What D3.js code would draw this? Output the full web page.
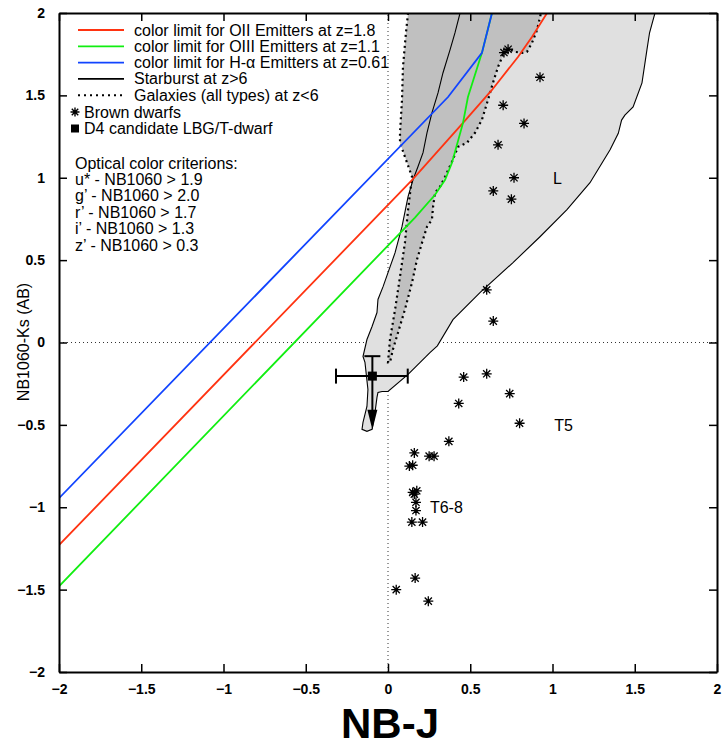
<!DOCTYPE html>
<html>
<head>
<meta charset="utf-8">
<script src="https://cdn.jsdelivr.net/npm/d3@7"></script>
<style>
  body { margin: 0; background: #fff; }
  svg { font-family: "Liberation Sans", Arial, Helvetica, sans-serif; }
</style>
</head>
<body>
<div id="chart"></div>
<script>
// colour-limit tracks (NB-J, NB1060-Ks)
var oiiLine = [[-2, -1.23], [0.15, 0.99], [0.456, 1.333], [0.632, 1.533], [0.79, 1.733], [0.875, 1.855], [0.967, 2.0]];
var oiiiLine = [[-2, -1.48], [0.164, 0.758], [0.286, 0.897], [0.347, 0.988], [0.389, 1.091], [0.456, 1.333], [0.486, 1.49], [0.571, 1.758], [0.632, 2.0]];
var haLine = [[-2, -0.945], [0.365, 1.49], [0.571, 1.758], [0.632, 2.0]];

// starburst z>6 region (solid outline)
var starburstRegion = [
  [0.438, 2.0], [0.407, 1.879], [0.377, 1.776], [0.334, 1.636], [0.304, 1.515], [0.267, 1.394],
  [0.237, 1.273], [0.213, 1.152], [0.182, 1.067], [0.152, 0.988], [0.122, 0.885], [0.085, 0.703],
  [0.043, 0.545], [0.0, 0.424], [-0.03, 0.339], [-0.061, 0.261], [-0.067, 0.182], [-0.097, 0.097],
  [-0.128, 0.018], [-0.152, -0.085], [-0.14, -0.121], [-0.122, -0.285], [-0.128, -0.388],
  [-0.152, -0.485], [-0.158, -0.527], [-0.128, -0.539], [-0.097, -0.527], [-0.079, -0.424],
  [-0.067, -0.333], [-0.061, -0.303], [-0.036, -0.297], [0.0, -0.297], [0.122, -0.194],
  [0.255, -0.061], [0.30, -0.02], [0.395, 0.139], [0.559, 0.303], [0.76, 0.485], [0.924, 0.642],
  [1.088, 0.806], [1.228, 0.970], [1.35, 1.17], [1.40, 1.27], [1.42, 1.35], [1.44, 1.38],
  [1.49, 1.43], [1.544, 1.576], [1.574, 1.776], [1.59, 1.88], [1.623, 2.0]
];

// galaxies z<6 region (dotted outline)
var galaxyRegion = [
  [0.122, 2.0], [0.109, 1.879], [0.091, 1.673], [0.085, 1.473], [0.073, 1.273], [0.073, 1.212],
  [0.103, 1.127], [0.146, 1.006], [0.122, 0.806], [0.103, 0.606], [0.073, 0.400], [0.043, 0.200],
  [0.012, 0.018], [0.0, -0.121], [0.012, -0.121], [0.03, -0.042], [0.061, 0.061], [0.103, 0.200],
  [0.146, 0.364], [0.176, 0.503], [0.207, 0.606], [0.237, 0.703], [0.267, 0.745], [0.274, 0.824],
  [0.286, 0.909], [0.316, 0.945], [0.347, 1.006], [0.389, 1.097], [0.426, 1.188], [0.48, 1.212],
  [0.529, 1.273], [0.571, 1.352], [0.608, 1.473], [0.638, 1.576], [0.669, 1.673], [0.699, 1.745],
  [0.742, 1.776], [0.772, 1.764], [0.815, 1.758], [0.845, 1.764], [0.875, 1.818], [0.906, 1.897],
  [0.93, 2.0]
];

// brown dwarfs
var dwarfs = [
  [0.73, 1.78], [0.705, 1.76], [0.924, 1.61], [0.70, 1.44], [0.827, 1.33], [0.669, 1.20],
  [0.766, 1.0], [0.64, 0.92], [0.75, 0.87], [0.60, 0.32], [0.64, 0.13],
  [0.46, -0.21], [0.60, -0.19], [0.74, -0.31], [0.43, -0.37], [0.80, -0.49], [0.37, -0.60],
  [0.16, -0.67], [0.25, -0.69], [0.28, -0.69], [0.13, -0.75], [0.15, -0.745],
  [0.15, -0.91], [0.175, -0.90], [0.16, -0.92], [0.17, -0.97], [0.17, -1.02],
  [0.145, -1.09], [0.21, -1.09], [0.165, -1.43], [0.05, -1.50], [0.245, -1.57]
];

// D4 candidate with errors
var d4 = { x: -0.095, y: -0.204, xLo: -0.316, xHi: 0.12, yHi: -0.083, yLimit: -0.53 };

var typeLabels = [
  { text: 'L', x: 1.003, y: 0.964 },
  { text: 'T5', x: 1.01, y: -0.54 },
  { text: 'T6-8', x: 0.255, y: -1.036 }
];

var ticks = [-2, -1.5, -1, -0.5, 0, 0.5, 1, 1.5, 2];

var legendLines = [
  { label: 'color limit for OII Emitters at z=1.8', color: '#ff3311', dash: null },
  { label: 'color limit for OIII Emitters at z=1.1', color: '#11ee11', dash: null },
  { label: 'color limit for H-\u03b1 Emitters at z=0.61', color: '#1144ff', dash: null },
  { label: 'Starburst at z>6', color: '#000', dash: null },
  { label: 'Galaxies (all types) at z<6', color: '#000', dash: '2,4' }
];
var criteria = [
  'Optical color criterions:',
  'u* - NB1060 > 1.9',
  'g\u2019 - NB1060 > 2.0',
  'r\u2019 - NB1060 > 1.7',
  'i\u2019 - NB1060 > 1.3',
  'z\u2019 - NB1060 > 0.3'
];

var W = 725, H = 748;
var m = { left: 59, top: 13, right: 8, bottom: 76 };

var x = d3.scaleLinear().domain([-2, 2]).range([m.left, W - m.right]);
var y = d3.scaleLinear().domain([-2, 2]).range([H - m.bottom, m.top]);

var svg = d3.select('#chart').append('svg')
  .attr('width', W).attr('height', H);

svg.append('clipPath').attr('id', 'plot-clip')
  .append('rect')
  .attr('x', x(-2)).attr('y', y(2))
  .attr('width', x(2) - x(-2)).attr('height', y(-2) - y(2));

var plot = svg.append('g').attr('clip-path', 'url(#plot-clip)');

var line = d3.line().x(d => x(d[0])).y(d => y(d[1]));
var area = d3.line().x(d => x(d[0])).y(d => y(d[1])).curve(d3.curveLinearClosed);

// zero lines
plot.append('line')
  .attr('x1', x(-2)).attr('x2', x(2)).attr('y1', y(0)).attr('y2', y(0))
  .attr('stroke', '#333').attr('stroke-width', 1).attr('stroke-dasharray', '1,3');
plot.append('line')
  .attr('x1', x(0)).attr('x2', x(0)).attr('y1', y(-2)).attr('y2', y(2))
  .attr('stroke', '#333').attr('stroke-width', 1).attr('stroke-dasharray', '1,3');

// regions
plot.append('path').attr('d', area(starburstRegion)).attr('fill', '#e0e0e0');
plot.append('path').attr('d', area(galaxyRegion)).attr('fill', '#c0c0c0');
plot.append('path').attr('d', area(starburstRegion))
  .attr('fill', 'none').attr('stroke', '#000').attr('stroke-width', 1.1);
plot.append('path').attr('d', area(galaxyRegion))
  .attr('fill', 'none').attr('stroke', '#000').attr('stroke-width', 2.2)
  .attr('stroke-dasharray', '2,3.5');

// colour-limit lines
[[oiiLine, '#ff3311'], [oiiiLine, '#11ee11'], [haLine, '#1144ff']].forEach(function (l) {
  plot.append('path').attr('d', line(l[0]))
    .attr('fill', 'none').attr('stroke', l[1]).attr('stroke-width', 1.8);
});

// asterisk symbol
function starPath(r) {
  var a = r * 0.72;
  return 'M' + (-r) + ',0L' + r + ',0M0,' + (-r) + 'L0,' + r +
    'M' + (-a) + ',' + (-a) + 'L' + a + ',' + a + 'M' + (-a) + ',' + a + 'L' + a + ',' + (-a);
}

plot.selectAll('.dwarf').data(dwarfs).enter().append('path')
  .attr('class', 'dwarf')
  .attr('transform', d => 'translate(' + x(d[0]) + ',' + y(d[1]) + ')')
  .attr('d', starPath(5))
  .attr('stroke', '#000').attr('stroke-width', 1.3).attr('fill', 'none');

plot.selectAll('.type-label').data(typeLabels).enter().append('text')
  .attr('class', 'type-label')
  .attr('x', d => x(d.x)).attr('y', d => y(d.y))
  .attr('font-size', 16).text(d => d.text);

// D4 candidate
var g4 = plot.append('g').attr('stroke', '#000').attr('stroke-width', 2);
g4.append('line').attr('x1', x(d4.xLo)).attr('x2', x(d4.xHi)).attr('y1', y(d4.y)).attr('y2', y(d4.y));
g4.append('line').attr('x1', x(d4.xLo)).attr('x2', x(d4.xLo)).attr('y1', y(d4.y) - 7.5).attr('y2', y(d4.y) + 7.5);
g4.append('line').attr('x1', x(d4.xHi)).attr('x2', x(d4.xHi)).attr('y1', y(d4.y) - 7.5).attr('y2', y(d4.y) + 7.5);
g4.append('line').attr('x1', x(d4.x)).attr('x2', x(d4.x)).attr('y1', y(d4.y)).attr('y2', y(d4.yHi));
g4.append('line').attr('x1', x(d4.x) - 8).attr('x2', x(d4.x) + 8).attr('y1', y(d4.yHi)).attr('y2', y(d4.yHi));
g4.append('line').attr('x1', x(d4.x)).attr('x2', x(d4.x)).attr('y1', y(d4.y)).attr('y2', y(d4.yLimit) - 12);
plot.append('path')
  .attr('d', 'M' + (x(d4.x) - 5) + ',' + (y(d4.yLimit) - 20) + 'L' + (x(d4.x) + 5) + ',' + (y(d4.yLimit) - 20) +
    'L' + x(d4.x) + ',' + y(d4.yLimit) + 'Z')
  .attr('fill', '#000');
plot.append('rect')
  .attr('x', x(d4.x) - 4.5).attr('y', y(d4.y) - 4.5).attr('width', 9).attr('height', 9)
  .attr('fill', '#000');

// axes, ticks inward on all sides
function styleAxis(g) {
  g.select('.domain').attr('stroke-width', 2);
  g.selectAll('.tick line').attr('stroke-width', 1.5);
  g.selectAll('.tick text').attr('font-weight', 'bold').attr('font-size', 14)
    .attr('font-family', '"Liberation Sans", Arial, sans-serif').attr('fill', '#000');
}
svg.append('g').attr('transform', 'translate(0,' + y(-2) + ')')
  .call(d3.axisBottom(x).tickValues(ticks).tickFormat(d3.format('')).tickSizeInner(-8).tickSizeOuter(0).tickPadding(12))
  .call(styleAxis);
svg.append('g').attr('transform', 'translate(0,' + y(2) + ')')
  .call(d3.axisTop(x).tickValues(ticks).tickFormat('').tickSizeInner(-8).tickSizeOuter(0))
  .call(styleAxis);
svg.append('g').attr('transform', 'translate(' + x(-2) + ',0)')
  .call(d3.axisLeft(y).tickValues(ticks).tickFormat(d3.format('')).tickSizeInner(-8).tickSizeOuter(0).tickPadding(14))
  .call(styleAxis);
svg.append('g').attr('transform', 'translate(' + x(2) + ',0)')
  .call(d3.axisRight(y).tickValues(ticks).tickFormat('').tickSizeInner(-8).tickSizeOuter(0))
  .call(styleAxis);

// axis titles
svg.append('text')
  .attr('x', (x(-2) + x(2)) / 2 + 2).attr('y', 738)
  .attr('text-anchor', 'middle').attr('font-weight', 'bold').attr('font-size', 42)
  .text('NB-J');
svg.append('text')
  .attr('transform', 'translate(29,342) rotate(-90)')
  .attr('text-anchor', 'middle').attr('font-size', 16)
  .text('NB1060-Ks (AB)');

// legend
var legend = svg.append('g');
legendLines.forEach(function (d, i) {
  var ly = 30 + i * 16.3;
  legend.append('line').attr('x1', 78).attr('x2', 124).attr('y1', ly).attr('y2', ly)
    .attr('stroke', d.color).attr('stroke-width', d.dash ? 2 : 1.8)
    .attr('stroke-dasharray', d.dash);
  legend.append('text').attr('x', 134).attr('y', ly + 5.5).attr('font-size', 16).text(d.label);
});
legend.append('path').attr('transform', 'translate(75,112)').attr('d', starPath(4.5))
  .attr('stroke', '#000').attr('stroke-width', 1.4);
legend.append('text').attr('x', 84).attr('y', 117.5).attr('font-size', 16).text('Brown dwarfs');
legend.append('rect').attr('x', 71).attr('y', 124.5).attr('width', 8).attr('height', 8).attr('fill', '#000');
legend.append('text').attr('x', 84).attr('y', 134).attr('font-size', 16).text('D4 candidate LBG/T-dwarf');
criteria.forEach(function (t, i) {
  legend.append('text').attr('x', 75).attr('y', 168.5 + i * 16.4).attr('font-size', 16).text(t);
});
</script>
</body>
</html>
